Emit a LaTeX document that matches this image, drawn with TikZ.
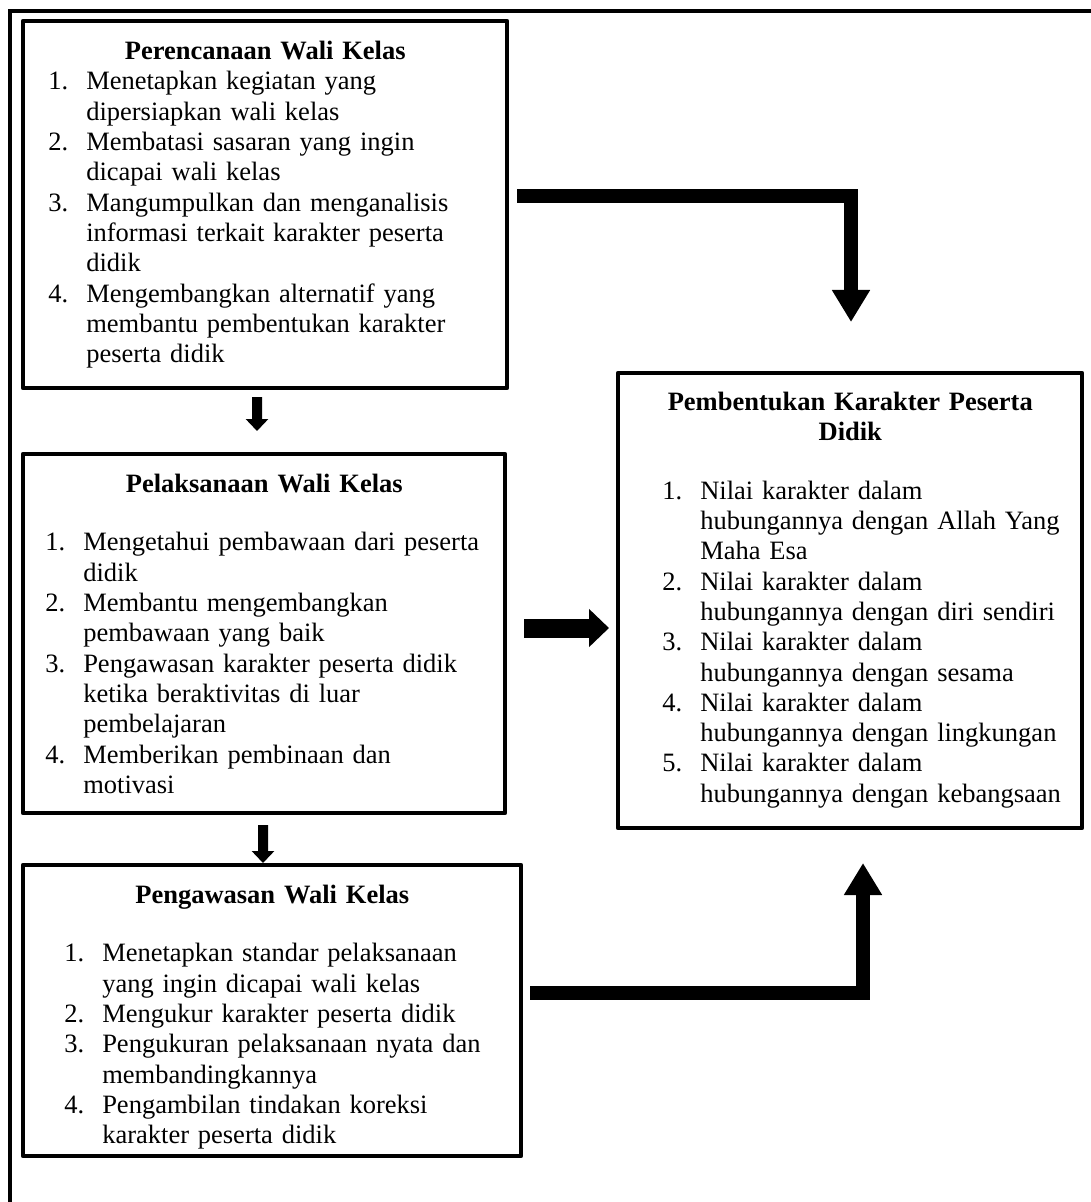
\documentclass[tikz,border=0pt]{standalone}
\usepackage{fontspec}
\setmainfont{Liberation Serif}
\usetikzlibrary{arrows.meta,calc}
\newcommand{\butir}[2]{\par\hangindent=9.5mm\hangafter=1\noindent\makebox[9.5mm][l]{#1}#2}

\begin{document}
\begin{tikzpicture}[x=0.25mm,y=-0.25mm,
	kotak/.style={draw=black, line width=1.125mm, line join=round, outer sep=0pt, inner sep=0pt, anchor=north west},
	isi/.style={anchor=north west, inner sep=0pt, font=\fontsize{18.85pt}{21.55pt}\selectfont},
	panahkecil/.style={line width=2.5mm, -{Triangle[width=5.5mm,length=3mm]}},
	panahbesar/.style={line width=4.75mm, -{Triangle[width=9.25mm,length=5mm]}},
	panahbelok/.style={line width=3.5mm, line join=miter, -{Triangle[width=9mm,length=8mm]}}]
			\useasboundingbox (0,0) rectangle (1091,1202);
			\draw[line width=1mm] (1091,11) -- (10,11) -- (10,1202);
			
			\node[kotak, minimum width=121mm, minimum height=91.75mm] (perencanaan) at (23,21) {};
			\node[kotak, minimum width=120.5mm, minimum height=89.75mm] (pelaksanaan) at (23,454) {};
			\node[kotak, minimum width=124.5mm, minimum height=72.75mm] (pengawasan) at (23,865) {};
			\node[kotak, minimum width=116mm, minimum height=113.75mm] (pembentukan) at (618,373) {};
			
			\node[isi, text width=121mm] (perencanaantxt) at ($(perencanaan.north west)+(0,20)$) {%
				{\centering\bfseries Perencanaan Wali Kelas\par}
				\raggedright\leftskip=6.25mm
				\butir{1.}{Menetapkan kegiatan yang\newline dipersiapkan wali kelas}
				\butir{2.}{Membatasi sasaran yang ingin\newline dicapai wali kelas}
				\butir{3.}{Mangumpulkan dan menganalisis\newline informasi terkait karakter peserta\newline didik}
				\butir{4.}{Mengembangkan alternatif yang\newline membantu pembentukan karakter\newline peserta didik}\par};
			
			\node[isi, text width=120.5mm] (pelaksanaantxt) at ($(pelaksanaan.north west)+(0,20)$) {%
				{\centering\bfseries Pelaksanaan Wali Kelas\par}
				\vspace{7mm}
				\raggedright\leftskip=5.5mm
				\butir{1.}{Mengetahui pembawaan dari peserta\newline didik}
				\butir{2.}{Membantu mengembangkan\newline pembawaan yang baik}
				\butir{3.}{Pengawasan karakter peserta didik\newline ketika beraktivitas di luar\newline pembelajaran}
				\butir{4.}{Memberikan pembinaan dan\newline motivasi}\par};
			
			\node[isi, text width=124.5mm] (pengawasantxt) at ($(pengawasan.north west)+(0,20)$) {%
				{\centering\bfseries Pengawasan Wali Kelas\par}
				\vspace{7mm}
				\raggedright\leftskip=10.25mm
				\butir{1.}{Menetapkan standar pelaksanaan\newline yang ingin dicapai wali kelas}
				\butir{2.}{Mengukur karakter peserta didik}
				\butir{3.}{Pengukuran pelaksanaan nyata dan\newline membandingkannya}
				\butir{4.}{Pengambilan tindakan koreksi\newline karakter peserta didik}\par};
			
			\node[isi, text width=116mm] (pembentukantxt) at ($(pembentukan.north west)+(0,19)$) {%
				{\centering\bfseries Pembentukan Karakter Peserta\\ Didik\par}
				\vspace{7mm}
				\raggedright\leftskip=11mm
				\butir{1.}{Nilai karakter dalam\newline hubungannya dengan Allah Yang\newline Maha Esa}
				\butir{2.}{Nilai karakter dalam\newline hubungannya dengan diri sendiri}
				\butir{3.}{Nilai karakter dalam\newline hubungannya dengan sesama}
				\butir{4.}{Nilai karakter dalam\newline hubungannya dengan lingkungan}
				\butir{5.}{Nilai karakter dalam\newline hubungannya dengan kebangsaan}\par};
			
			\draw[panahkecil] ($(perencanaan.south)+(-8,9)$) -- ($(pelaksanaan.north)+(-7,-23)$);
			\draw[panahkecil] ($(pelaksanaan.south)+(-1,12)$) -- ($(pengawasan.north)+(-9,-2)$);
			
			\draw[panahbesar] ($(pelaksanaan.east)+(19,-5.5)$) coordinate (tengah) -- (tengah -| pembentukan.west) [shorten >=9*0.25mm];
			
			\draw[panahbelok] ($(perencanaan.east)+(10,-8.5)$) -| ($(pembentukan.north)+(1,-51)$);
			\draw[panahbelok] ($(pengawasan.east)+(9,-17.5)$) -| ($(pembentukan.south)+(13,35)$);
		\end{tikzpicture}
\end{document}
